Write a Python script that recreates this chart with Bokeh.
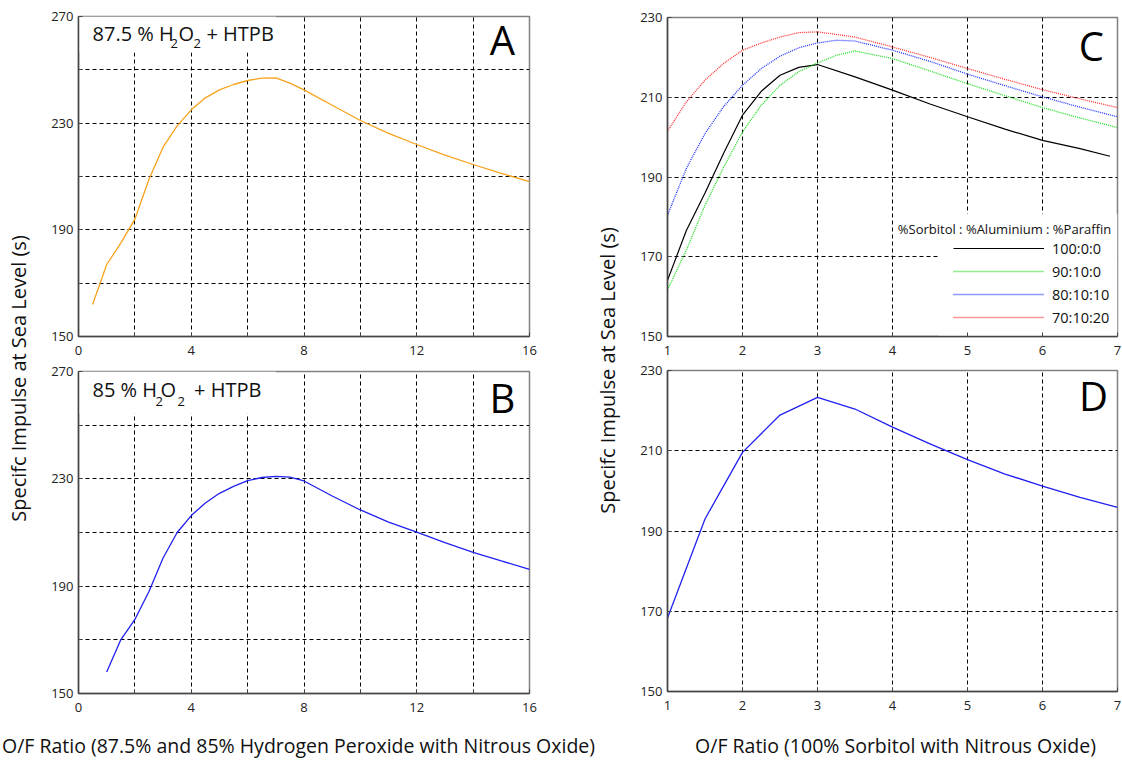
from math import pi
from bokeh.plotting import figure
from bokeh.models import Label, Legend, LegendItem, BoxAnnotation, Range1d
from bokeh.layouts import row, column
from bokeh.embed import file_html
from bokeh.resources import INLINE

FONT = "Open Sans"

# ---------------- data ----------------
# Panel A: 87.5 % H2O2 + HTPB
a_of = [0.5, 1, 1.5, 2, 2.5, 3, 3.5, 4, 4.5, 5, 5.5, 6, 6.5, 7, 7.5, 8, 9, 10, 11, 12, 13, 14, 15, 16]
a_isp = [162, 177, 185, 194, 209, 221, 229, 235, 239.5, 242.5, 244.5, 246, 246.9, 247, 245, 242.5,
         236.7, 231, 226.2, 222, 218, 214.5, 211.2, 208.1]

# Panel B: 85 % H2O2 + HTPB
b_of = [1, 1.5, 2, 2.5, 3, 3.5, 4, 4.5, 5, 5.5, 6, 6.5, 7, 7.5, 8, 9, 10, 11, 12, 13, 14, 15, 16]
b_isp = [158, 170, 177.6, 188, 200.5, 210, 216.3, 221, 224.6, 227.2, 229.3, 230.5, 230.9, 230.6,
         229.2, 223.6, 218.4, 213.9, 210.1, 206.2, 202.6, 199.4, 196.3]

# Panel C: sorbitol / aluminium / paraffin mixtures
c_legend_title = "%Sorbitol : %Aluminium : %Paraffin"
c_labels = ["100:0:0", "90:10:0", "80:10:10", "70:10:20"]
c_of_100 = [1, 1.25, 1.5, 1.75, 2, 2.25, 2.5, 2.75, 3, 3.5, 4, 4.5, 5, 5.5, 6, 6.5, 6.9]
c_isp_100 = [164.1, 176.5, 186, 196, 205.5, 211.5, 215.5, 217.5, 218.2, 215.1, 211.8, 208.3,
             205.1, 202.0, 199.2, 197.1, 195.2]
c_of_90 = [1, 1.25, 1.5, 1.75, 2, 2.25, 2.5, 2.75, 3, 3.25, 3.5, 4, 4.5, 5, 5.5, 6, 6.5, 7]
c_isp_90 = [161.7, 171.6, 182.9, 192.5, 201.3, 208, 213, 216.4, 218.6, 220.5, 221.6, 219.7,
            216.6, 213.4, 210.4, 207.4, 204.8, 202.4]
c_of_80 = [1, 1.25, 1.5, 1.75, 2, 2.25, 2.5, 2.75, 3, 3.25, 3.5, 4, 4.5, 5, 5.5, 6, 6.5, 7]
c_isp_80 = [180.4, 192.1, 200.9, 207.7, 213, 217.2, 220.3, 222.4, 223.6, 224.3, 224.1, 221.8,
            219, 215.8, 212.9, 210.1, 207.5, 205.1]
c_of_70 = [1, 1.25, 1.5, 1.75, 2, 2.25, 2.5, 2.75, 3, 3.5, 4, 4.5, 5, 5.5, 6, 6.5, 7]
c_isp_70 = [201.5, 208.8, 214.3, 218.5, 221.8, 223.6, 225.1, 226.2, 226.4, 225.1, 222.6, 220,
            217.2, 214.5, 211.9, 209.6, 207.4]

# Panel D: 100 % sorbitol
d_of = [1, 1.5, 2, 2.5, 3, 3.5, 4, 4.5, 5, 5.5, 6, 6.5, 7]
d_isp = [168.3, 193, 209.6, 218.9, 223.3, 220.4, 215.9, 211.7, 207.8, 204.2, 201.2, 198.4, 195.9]

# ticks
ab_xticks = [0, 2, 4, 6, 8, 10, 12, 14, 16]
ab_xticks_unlabelled = [2, 6, 10, 14]
ab_yticks = [150, 170, 190, 210, 230, 250, 270]
ab_yticks_unlabelled = [170, 210, 250]
cd_xticks = [1, 2, 3, 4, 5, 6, 7]
cd_yticks = [150, 170, 190, 210, 230]

xlabel_left = "O/F Ratio (87.5% and 85% Hydrogen Peroxide with Nitrous Oxide)"
xlabel_right = "O/F Ratio (100% Sorbitol with Nitrous Oxide)"
ylabel = "Specifc Impulse at Sea Level (s)"


def make_fig(xr, yr, xticks, yticks, fw, fh, mbl, mbr, mbt, mbb, skip_x=(), skip_y=()):
    p = figure(frame_width=fw, frame_height=fh, x_range=Range1d(*xr), y_range=Range1d(*yr),
               toolbar_location=None, output_backend="svg",
               min_border_left=mbl, min_border_right=mbr, min_border_top=mbt, min_border_bottom=mbb,
               background_fill_color="white", border_fill_color="white")
    p.xaxis.ticker = xticks
    p.yaxis.ticker = yticks
    if skip_x:
        p.xaxis.major_label_overrides = {t: "" for t in skip_x}
    if skip_y:
        p.yaxis.major_label_overrides = {t: "" for t in skip_y}
    for ax in (p.xaxis, p.yaxis):
        ax.major_label_text_font = FONT
        ax.major_label_text_font_size = "13px"
        ax.major_label_text_color = "#222222"
        ax.major_tick_in = 4
        ax.major_tick_out = 0
        ax.minor_tick_line_color = None
        ax.axis_line_color = "#444444"
        ax.axis_line_width = 1.5
        ax.major_tick_line_color = "#444444"
    p.xaxis.major_label_standoff = 9
    p.yaxis.major_label_standoff = 5
    p.grid.grid_line_color = "black"
    p.grid.grid_line_dash = "4 3"
    p.grid.grid_line_width = 1
    p.outline_line_color = "#808080"
    p.outline_line_width = 1.5
    return p


def title_pieces(p, pieces, y_main, y_sub):
    for txt, x, sub in pieces:
        p.add_layout(Label(x=x, y=(y_sub if sub else y_main), text=txt, text_font=FONT,
                           text_font_size=("13px" if sub else "20px"), text_color="#111111",
                           text_align="left", text_baseline="alphabetic"))


def letter(p, txt, x, y):
    p.add_layout(Label(x=x, y=y, text=txt, text_font=FONT, text_font_size="40px",
                       text_color="black", text_align="center", text_baseline="alphabetic"))


# ---------------- panel A ----------------
pa = make_fig((0, 16), (150, 270), ab_xticks, ab_yticks, 451, 320, 42, 8, 16, 26,
              ab_xticks_unlabelled, ab_yticks_unlabelled)
pa.add_layout(BoxAnnotation(left=0, right=7, bottom=256.5, top=270, fill_color="white",
                            fill_alpha=1, line_color=None, level="underlay"))
pa.line(a_of, a_isp, line_color="#F7A21B", line_width=1.3)
title_pieces(pa, [("87.5 % H", 0.497, False), ("2", 3.264, True), ("O", 3.548, False),
                  ("2", 4.080, True), ("+ HTPB", 4.54, False)], 263.6, 259.9)
letter(pa, "A", 15.04, 261.4)

# ---------------- panel B ----------------
pb = make_fig((0, 16), (150, 270), ab_xticks, ab_yticks, 451, 322, 42, 8, 9, 30,
              ab_xticks_unlabelled, ab_yticks_unlabelled)
pb.add_layout(BoxAnnotation(left=0, right=7, bottom=254.3, top=270, fill_color="white",
                            fill_alpha=1, line_color=None, level="underlay"))
pb.line(b_of, b_isp, line_color="#2020F0", line_width=1.3)
title_pieces(pb, [("85 % H", 0.497, False), ("2", 2.732, True), ("O", 2.909, False),
                  ("2", 3.512, True), ("+ HTPB", 4.1, False)], 263.3, 259.0)
letter(pb, "B", 15.04, 260.3)

# ---------------- panel C ----------------
pc = make_fig((1, 7), (150, 230), cd_xticks, cd_yticks, 450, 319, 40, 5, 17, 26)
pc.add_layout(BoxAnnotation(left=4.61, right=7, bottom=150, top=180.8, fill_color="white",
                            fill_alpha=1, line_color=None, level="underlay"))
r100 = pc.line(c_of_100, c_isp_100, line_color="black", line_width=1.2)
r90 = pc.line(c_of_90, c_isp_90, line_color="#22DD22", line_width=1.3, line_dash="1 1")
r80 = pc.line(c_of_80, c_isp_80, line_color="#2233FF", line_width=1.3, line_dash="1 1")
r70 = pc.line(c_of_70, c_isp_70, line_color="#FF3333", line_width=1.3, line_dash="1 1")
legend = Legend(items=[LegendItem(label=l, renderers=[r]) for l, r in
                       zip(c_labels, [r100, r90, r80, r70])],
                location=(286, 9), glyph_width=91, glyph_height=20, label_height=20,
                label_standoff=8, spacing=3, padding=6, margin=0,
                border_line_color=None, background_fill_color="white", background_fill_alpha=1,
                label_text_font=FONT, label_text_font_size="14.5px", label_text_color="#111111")
pc.add_layout(legend)
pc.add_layout(Label(x=4.07, y=177.05, text=c_legend_title, text_font=FONT,
                    text_font_size="13px", text_color="#111111", text_align="left",
                    text_baseline="alphabetic"))
letter(pc, "C", 6.65, 222.98)

# ---------------- panel D ----------------
pd_ = make_fig((1, 7), (150, 230), cd_xticks, cd_yticks, 450, 321, 40, 5, 8, 32)
pd_.line(d_of, d_isp, line_color="#2020F0", line_width=1.3)
letter(pd_, "D", 6.68, 223.77)


# ---------------- label strips ----------------
def blank(w, h):
    s = figure(width=w, height=h, x_range=Range1d(0, w), y_range=Range1d(0, h),
               toolbar_location=None, output_backend="svg", min_border=0,
               x_axis_location=None, y_axis_location=None)
    s.outline_line_color = None
    s.grid.visible = False
    return s


def ylabel_strip(w, xc, yc):
    s = blank(w, 723)
    s.add_layout(Label(x=xc, y=723 - yc, text=ylabel, angle=pi / 2, text_font=FONT,
                       text_font_size="20px", text_color="#111111", text_align="center",
                       text_baseline="middle"))
    return s


yl1 = ylabel_strip(36, 18, 378)
yl2 = ylabel_strip(90, 70, 370)

xs = blank(1122, 37)
for txt, xc in ((xlabel_left, 298), (xlabel_right, 895)):
    xs.add_layout(Label(x=xc, y=15, text=txt, text_font=FONT, text_font_size="19.5px",
                        text_color="#111111", text_align="center", text_baseline="middle"))

layout = column(row(yl1, column(pa, pb), yl2, column(pc, pd_)), xs)
open("out.html", "w").write(file_html(layout, INLINE))
